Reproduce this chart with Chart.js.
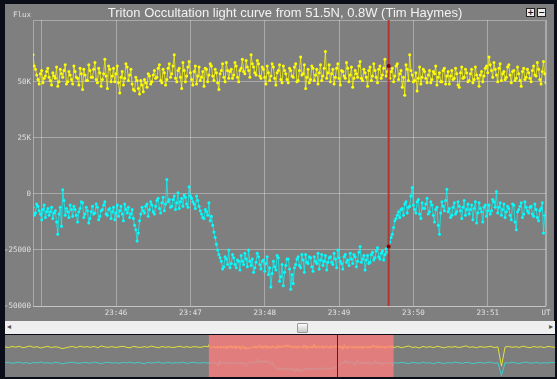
<!DOCTYPE html>
<html>
<head>
<meta charset="utf-8">
<script src="https://cdn.jsdelivr.net/npm/chart.js@4.4.0/dist/chart.umd.min.js"></script>
<style>
  html, body { margin: 0; padding: 0; }
  body { width: 557px; height: 379px; background: #0b0e18; position: relative; overflow: hidden; }
  #mainBox { position: absolute; left: 5px; top: 4px; width: 549px; height: 317px; background: #7f7f7f; }
  #scrollBar { position: absolute; left: 5px; top: 321px; width: 550px; height: 13px; background: #efefef; }
  #thumb { position: absolute; left: 292px; top: 2px; width: 9px; height: 8px; border: 1px solid #9a9a9a; border-radius: 1px;
           background: linear-gradient(#fbfbfb, #c9c9c9); }
  .arrow { position: absolute; top: 1px; font: 8px "DejaVu Sans"; color: #555; }
  #overBox { position: absolute; left: 5px; top: 335px; width: 550px; height: 42px; background: #7d7d7d; }
  .btn { position: absolute; top: 8px; width: 7px; height: 7px; background: #ececec; border: 1px solid #222;
         font: bold 8px/7px "DejaVu Sans"; color: #111; text-align: center; }
</style>
</head>
<body>
<div id="mainBox"><canvas id="mainChart" width="549" height="317"></canvas></div>
<span class="btn" style="left:526px">+</span>
<span class="btn" style="left:537px">−</span>
<div id="scrollBar"><span class="arrow" style="left:2px">◂</span><div id="thumb"></div><span class="arrow" style="left:544px">▸</span></div>
<div id="overBox"><canvas id="overChart" width="550" height="42"></canvas></div>
<script>
// times are seconds after 23:45:00 UT, one sample per second from -7 s to 407 s
const sampleStart = -7;
const markerTime = 280;

const xTickValues = [0, 60, 120, 180, 240, 300, 360, 407];
const xTickLabels = ['', '23:46', '23:47', '23:48', '23:49', '23:50', '23:51', 'UT'];
const yTickValues = [-50000, -25000, 0, 25000, 50000];
const yTickLabels = ['-50000', '-25000', '0', '25K', '50K'];

// comparison star (yellow), samples at -7, -5, -3 ... s
const yellowFlux = [
  62000, 55500, 51000, 53500, 49500, 52500, 56000, 50500,
  54000, 51500, 48000, 55500, 52000, 57500, 50000, 53000,
  49000, 54500, 51500, 56000, 46500, 53000, 50500, 55000,
  52000, 58500, 49500, 54000, 51000, 60000, 47000, 55500,
  52500, 50000, 57000, 45000, 54500, 51500, 56500, 53000,
  49000, 46000, 50500, 44500, 48500, 51000, 47500, 52500,
  50000, 55000, 52000, 57500, 49500, 54000, 51000, 58000,
  53500, 62000, 50000, 56000, 47000, 55000, 52500, 59000,
  51000, 54500, 49000, 56500, 52000, 48000, 55500, 53000,
  57000, 50500, 54000, 46500, 55000, 52000, 58500, 51500,
  55500, 53000, 57000, 50000, 56000, 54500, 59500, 55000,
  62000, 56500, 53000, 58000, 51500, 55500, 49000, 54000,
  52500, 56500, 48500, 55000, 51000, 57000, 53500, 49500,
  55000, 52000, 58000, 50500, 61000, 53500, 47000, 55500,
  51000, 56000, 53000, 49000, 57500, 52500, 63500, 54000,
  50000, 55500, 52000, 58000, 48500, 54500, 51500, 56000,
  53000, 47500, 55000, 52000, 59000, 50500, 54000, 48000,
  56500, 52500, 55000, 49500, 57000, 53000, 60000, 54500,
  51500, 56000, 52500, 58000, 53500, 47500, 44000, 55500,
  62000, 53000, 50500, 45800, 56500, 52000, 54500, 49500,
  55000, 51000, 53500, 48500, 54000, 50000, 56000, 52500,
  49000, 55000, 51500, 53500, 47500, 56500, 52000, 54000,
  50500, 55500, 51000, 53000, 48000, 54500, 52500, 57000,
  61000, 55000, 58500, 53000, 56000, 50500, 54500, 52000,
  57500, 49500, 55000, 51500, 53500, 48000, 56000, 52000,
  54000, 50000, 57000, 52500, 55500, 49000, 59000, 49500
];
// comparison star, in-between samples at -6, -4 ... s
const yellowFluxHalf = [
  57000, 53000, 49000, 55000, 51500, 54500, 52000, 48500,
  52500, 56500, 50000, 53500, 55000, 49000, 54500, 51000,
  57000, 52000, 48500, 53500, 55500, 50500, 57500, 52000,
  55500, 51000, 56000, 48000, 53500, 52500, 57000, 50000,
  56000, 53500, 49500, 52000, 48500, 58000, 50500, 55500,
  46500, 52000, 47000, 50500, 45500, 49500, 53500, 49000,
  53000, 51500, 56000, 50500, 55500, 48500, 56000, 52000,
  57000, 51500, 55000, 52000, 58500, 50000, 56500, 54000,
  48500, 57000, 52500, 50500, 54500, 56000, 50000, 58000,
  52500, 55500, 49500, 53500, 58000, 50000, 55000, 54500,
  51500, 58500, 52000, 55000, 60000, 53500, 56500, 52000,
  58000, 54000, 59500, 52500, 56500, 52000, 57000, 50500,
  58000, 51500, 54000, 57500, 49500, 55000, 51000, 56000,
  52500, 56500, 50000, 55000, 53000, 57500, 52000, 49500,
  57000, 50500, 55500, 54000, 50500, 56000, 51500, 57500,
  53500, 49000, 56000, 51500, 55000, 52500, 58500, 50000,
  56500, 51500, 53500, 57000, 51500, 55500, 52000, 55000,
  50500, 58000, 52000, 55500, 51500, 56000, 52500, 57000,
  54500, 50000, 57000, 51000, 55000, 52000, 57500, 50500,
  55000, 50000, 54000, 51500, 49000, 55500, 51500, 53000,
  49500, 54500, 57000, 52000, 50000, 55000, 49000, 54500,
  52500, 51000, 56000, 48500, 54000, 51500, 55500, 50000,
  53500, 49500, 56500, 51500, 53000, 50000, 56000, 54000,
  57500, 52000, 55500, 50000, 58000, 53500, 51000, 56500,
  53000, 54500, 50500, 56500, 50500, 54500, 51000, 55500,
  51500, 55000, 53000, 58500, 51000, 54500, 53500
];

// Triton (cyan), samples at -7, -5, -3 ... s
const cyanFlux = [
  -6000, -8500, -5500, -9000, -7000, -10500, -6500, -8000,
  -11000, -7500, -18000, -6000, 1800, -9500, -8000, -5000,
  -10000, -7000, -12500, -6500, -4000, -9000, -7500, -11000,
  -5500, -8500, -6000, -10000, -7000, -3500, -9500, -6500,
  -8000, -11500, -5000, -7500, -9000, -4500, -8500, -10500,
  -7000, -14000, -21000, -12000, -6000, -8500, -4500, -7000,
  -5000, -9000, -3000, -6500, -4000, -7500, 6400, -2500,
  -5500, -1000, -4000, -6500, -2000, -500, -4500, 3200,
  -2000, -4500, -1000, -5500, -9000, -11000, -8000, -4000,
  -10000, -17000, -22500, -27000, -30000, -32500, -29000, -25000,
  -31000, -28500, -33000, -30000, -27500, -31500, -29000, -25000,
  -32000, -35000, -30500, -28000, -33500, -29500, -31000, -36000,
  -41500, -30000, -34000, -28500, -37000, -41000, -32000, -29000,
  -42500, -40000, -31500, -28000, -33000, -29500, -27000, -31000,
  -28500, -34500, -30000, -26500, -29500, -32000, -27500, -30500,
  -28000, -31500, -29000, -25000, -30000, -33500, -27000, -29500,
  -26500, -31000, -28000, -30000, -23500, -29000, -34000, -27500,
  -30500, -26000, -28500, -24000, -29000, -25500, -27000, -26000,
  -21500, -18000, -12000, -9500, -10500, -6500, -4500, -8500,
  -5500, 2800, -7000, -3500, -9000, -4000, -6500, -2000,
  -8000, -5000, -12500, -6000, -18000, -3500, -7500, 2000,
  -6500, -9500, -4000, -8000, -5500, -11000, -3000, -7000,
  -9000, -5000, -6500, -13000, -4000, -8000, -6000, -10000,
  -5000, -7500, -3500, 1000, -6000, -9500, -4500, -8000,
  -6500, -11500, -5000, -16000, -7000, -4000, -9000, -6000,
  -8500, -5500, -10000, -7000, -12000, -6500, -17500, -8000
];
// Triton, in-between samples at -6, -4 ... s
const cyanFluxHalf = [
  -9500, -4500, -7500, -11500, -5000, -8000, -9500, -6000,
  -8500, -12500, -9000, -14500, -3000, -6500, -10500, -7000,
  -5500, -9500, -8000, -3500, -10500, -6000, -13000, -8000,
  -9000, -4500, -11500, -7500, -5000, -9000, -7000, -11000,
  -6000, -8500, -10000, -5500, -12000, -7000, -6000, -9000,
  -11000, -16000, -17500, -9000, -7500, -5500, -10000, -3500,
  -8000, -5500, -2000, -8500, -1500, -4500, -3500, -6000,
  -2500, -7000, 500, -3500, -5500, -1500, -6000, -1000,
  -3500, -6500, -3000, -7500, -10500, -7000, -9500, -12000,
  -14000, -19500, -25000, -28500, -33500, -28000, -31500, -33000,
  -27000, -31500, -29500, -34000, -30000, -26500, -32500, -30000,
  -29000, -33000, -26500, -31500, -30000, -34500, -28000, -33000,
  -35500, -32500, -27500, -39000, -31500, -35000, -29000, -33500,
  -36000, -33000, -29000, -32000, -27000, -35000, -30500, -28000,
  -32500, -28000, -31000, -33500, -27000, -30000, -34000, -28500,
  -30500, -26500, -33000, -28500, -31000, -28000, -30500, -32000,
  -29000, -27000, -32500, -26000, -30500, -27500, -29500, -31000,
  -27000, -29500, -25500, -28000, -26500, -29500, -24500, -23500,
  -19500, -15000, -11000, -8000, -7000, -9500, -3500, -6000,
  -1000, -5000, -8500, -2500, -11000, -6500, -4500, -9000,
  -3500, -9500, -7000, -14000, -8500, -5500, -3000, -8000,
  -10500, -6000, -9000, -3500, -7500, -6000, -9500, -4500,
  -7000, -11500, -3500, -8500, -6500, -12500, -5000, -7500,
  -9000, -2500, -6000, -8500, -4000, -7000, -10500, -5500,
  -9500, -4500, -12500, -8000, -5500, -10500, -3500, -7500,
  -6000, -9000, -4500, -10500, -7500, -4000, -9500
];

// range selector: coarser samples outside the zoomed window
const overviewStep = 8;
const beforeStart = -464;
const afterStart = 409;
const yellowBefore = [
  54000, 51000, 55500, 52500, 56000, 50500, 53500, 57000,
  52000, 54500, 49500, 53000, 55500, 51500, 54000, 52500,
  47000, 50000, 53500, 55000, 51000, 56500, 53000, 54500,
  52000, 55500, 50500, 57000, 53500, 52000, 55000, 51500,
  54000, 56000, 52500, 50000, 55500, 53000, 51500, 54500,
  52000, 56500, 53500, 50500, 55000, 52500, 54000, 51000,
  53500, 56000, 52000, 54500, 51500, 55000, 53000, 52000,
  56000, 54000
];
const cyanBefore = [
  -7000, -5000, -9000, -6500, -4500, -8500, -6000, -10000,
  -5500, -7500, -4000, -8000, -6500, -9500, -5000, -7000,
  -11000, -8000, -6000, -4500, -7500, -9000, -5500, -6500,
  -8500, -4000, -7000, -10000, -6000, -5000, -8000, -6500,
  -9000, -5500, -7500, -4500, -8500, -6000, -7000, -10500,
  -5000, -8000, -6500, -4000, -9000, -7000, -5500, -8500,
  -6000, -7500, -4500, -9500, -6500, -5000, -8000, -7000,
  -6000, -8500
];
const yellowAfter = [
  52000, 55000, 50500, 54000, 57000, 51500, 53500, 49500,
  55500, 52000, 54500, 51000, 56000, 53000, 50000, 54500,
  52500, 55000, 51500, 53500, 57500, 52000, 54000, 50500,
  55000, 52500, 53500, 56000, 51000, 54000, -20000, 53000,
  55500, 52000, 54500, 51500, 56500, 53000, 50500, 55000,
  52500, 54000, 51000, 55500, 53500, 52000
];
const cyanAfter = [
  -6000, -8500, -5000, -7500, -10000, -5500, -7000, -9000,
  -4500, -8000, -6500, -11000, -5000, -7500, -9500, -6000,
  -8000, -4500, -7000, -9000, -5500, -6500, -10500, -7500,
  -5000, -8500, -6000, -4000, -9000, -7000, -55000, -6500,
  -8000, -5000, -7500, -9500, -6000, -4500, -8500, -7000,
  -5500, -9000, -6500, -8000, -5000, -7000
];

const gridColor = 'rgba(255,255,255,0.33)';
const tickFont = { family: 'DejaVu Sans Mono', size: 7.5 };

function sampleTimes(start, step, n) {
  const out = [];
  for (let i = 0; i < n; i++) out.push(start + i * step);
  return out;
}
function toPoints(times, values) {
  return values.map((v, i) => ({ x: times[i], y: v }));
}
// put the in-between samples back in time order
function interleave(a, b) {
  const out = [];
  a.forEach((v, i) => {
    out.push(v);
    if (i < b.length) out.push(b[i]);
  });
  return out;
}

const yellowAll = interleave(yellowFlux, yellowFluxHalf);
const cyanAll = interleave(cyanFlux, cyanFluxHalf);
const mainTimes = sampleTimes(sampleStart, 1, yellowAll.length);
const beforeTimes = sampleTimes(beforeStart, overviewStep, yellowBefore.length);
const afterTimes = sampleTimes(afterStart, overviewStep, yellowAfter.length);

const mainDecor = {
  id: 'mainDecor',
  beforeDatasetsDraw(chart) {
    const { ctx, chartArea: a } = chart;
    ctx.save();
    ctx.strokeStyle = gridColor;
    ctx.lineWidth = 1;
    ctx.strokeRect(a.left + 0.5, a.top + 0.5, a.right - a.left - 1, a.bottom - a.top);
    ctx.restore();
  },
  afterDatasetsDraw(chart) {
    const { ctx, chartArea: a, scales } = chart;
    const x = scales.x.getPixelForValue(markerTime);
    ctx.save();
    ctx.strokeStyle = 'rgba(190,35,35,0.8)';
    ctx.lineWidth = 2;
    ctx.beginPath();
    ctx.moveTo(x, a.top);
    ctx.lineTo(x, a.bottom);
    ctx.stroke();
    const idx = mainTimes.indexOf(markerTime);
    ctx.fillStyle = '#8a0000';
    [yellowAll, cyanAll].forEach(series => {
      ctx.beginPath();
      ctx.arc(x, scales.y.getPixelForValue(series[idx]), 2, 0, Math.PI * 2);
      ctx.fill();
    });
    ctx.restore();
  },
  afterDraw(chart) {
    const { ctx } = chart;
    ctx.save();
    ctx.fillStyle = '#f2f2f2';
    ctx.font = '13px "Liberation Sans"';
    ctx.textAlign = 'center';
    ctx.textBaseline = 'middle';
    ctx.fillText('Triton Occultation light curve from 51.5N, 0.8W (Tim Haymes)', 280, 9);
    ctx.fillStyle = '#e0e0e0';
    ctx.font = '7.5px "DejaVu Sans Mono"';
    ctx.textAlign = 'right';
    ctx.fillText('Flux', 26, 11);
    ctx.restore();
  }
};

new Chart(document.getElementById('mainChart'), {
  type: 'line',
  data: {
    datasets: [{
      label: 'Comparison',
      data: toPoints(mainTimes, yellowAll),
      borderColor: 'rgba(255,255,0,0.7)',
      backgroundColor: '#ffff00',
      pointBackgroundColor: '#ffff00',
      pointBorderWidth: 0,
      pointRadius: 1.5,
      borderWidth: 1
    }, {
      label: 'Triton',
      data: toPoints(mainTimes, cyanAll),
      borderColor: 'rgba(0,255,255,0.7)',
      backgroundColor: '#00ffff',
      pointBackgroundColor: '#00ffff',
      pointBorderWidth: 0,
      pointRadius: 1.5,
      borderWidth: 1
    }]
  },
  options: {
    responsive: false,
    animation: false,
    events: [],
    layout: { padding: { left: 0, right: 8, top: 16, bottom: 0 } },
    plugins: {
      legend: { display: false },
      tooltip: { enabled: false },
      title: { display: false }
    },
    scales: {
      x: {
        type: 'linear',
        min: sampleStart,
        max: 407,
        afterBuildTicks: s => { s.ticks = xTickValues.map(v => ({ value: v })); },
        afterFit: s => { s.height = 15; },
        grid: { color: gridColor, drawTicks: false },
        border: { display: false },
        ticks: {
          autoSkip: false,
          maxRotation: 0,
          padding: 3,
          color: '#e0e0e0',
          font: tickFont,
          callback: (v, i) => xTickLabels[i]
        }
      },
      y: {
        min: -50000,
        max: 77500,
        afterBuildTicks: s => { s.ticks = yTickValues.map(v => ({ value: v })); },
        afterFit: s => { s.width = 28; },
        grid: { color: gridColor, drawTicks: false },
        border: { display: false },
        ticks: {
          padding: 2,
          color: '#e0e0e0',
          font: tickFont,
          callback: (v, i) => yTickLabels[i]
        }
      }
    }
  },
  plugins: [mainDecor]
});

const overDecor = {
  id: 'overDecor',
  afterDatasetsDraw(chart) {
    const { ctx, chartArea: a, scales } = chart;
    const x0 = scales.x.getPixelForValue(sampleStart);
    const x1 = scales.x.getPixelForValue(mainTimes[mainTimes.length - 1]);
    const xm = scales.x.getPixelForValue(markerTime);
    ctx.save();
    ctx.fillStyle = 'rgba(255,125,125,0.78)';
    ctx.fillRect(x0, a.top, x1 - x0, a.bottom - a.top);
    ctx.strokeStyle = '#7a1010';
    ctx.lineWidth = 1;
    ctx.beginPath();
    ctx.moveTo(Math.round(xm) + 0.5, a.top);
    ctx.lineTo(Math.round(xm) + 0.5, a.bottom);
    ctx.stroke();
    ctx.restore();
  }
};

new Chart(document.getElementById('overChart'), {
  type: 'line',
  data: {
    datasets: [{
      data: toPoints(beforeTimes, yellowBefore).concat(toPoints(mainTimes, yellowAll), toPoints(afterTimes, yellowAfter)),
      borderColor: '#e4e43a',
      borderWidth: 1,
      pointRadius: 0
    }, {
      data: toPoints(beforeTimes, cyanBefore).concat(toPoints(mainTimes, cyanAll), toPoints(afterTimes, cyanAfter)),
      borderColor: '#45cccc',
      borderWidth: 1,
      pointRadius: 0
    }]
  },
  options: {
    responsive: false,
    animation: false,
    events: [],
    layout: { padding: 0 },
    plugins: { legend: { display: false }, tooltip: { enabled: false } },
    scales: {
      x: { type: 'linear', display: false, min: beforeStart, max: 769 },
      y: { display: false, min: -61000, max: 99000 }
    }
  },
  plugins: [overDecor]
});
</script>
</body>
</html>
